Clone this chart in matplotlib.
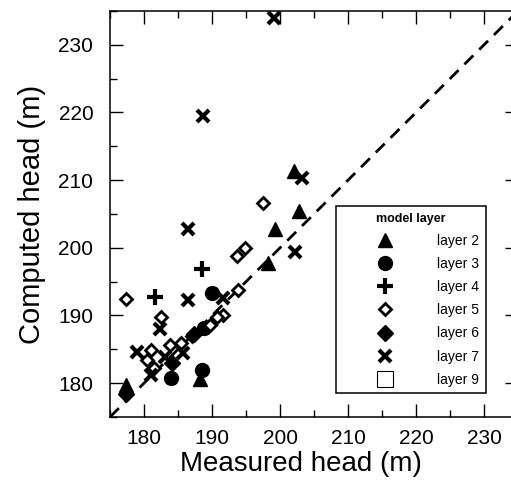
import matplotlib
matplotlib.use("Agg")
import matplotlib.pyplot as plt
from matplotlib.lines import Line2D
from matplotlib.ticker import MultipleLocator

plt.rcParams['font.family'] = ['Liberation Sans', 'DejaVu Sans']

# ---- data (measured head, computed head) per model layer ----
layer2_x = [202.0, 202.8, 199.3, 198.2, 177.4, 188.2]
layer2_y = [211.3, 205.4, 202.8, 197.7, 179.8, 180.6]

layer3_x = [190.0, 188.6, 183.9, 188.8]
layer3_y = [193.3, 182.0, 180.8, 188.2]

layer4_x = [181.6, 188.5]
layer4_y = [192.7, 196.9]

layer5_x = [177.3, 197.5, 193.7, 194.9, 182.5, 191.6, 193.8, 181.1, 180.4,
            181.4, 183.8, 185.5, 187.0, 189.7, 190.7]
layer5_y = [192.5, 206.6, 198.8, 200.0, 189.8, 190.1, 193.8, 184.9, 183.4,
            182.2, 185.6, 185.9, 186.9, 188.6, 189.8]

layer6_x = [177.3, 184.1, 187.3]
layer6_y = [178.4, 183.0, 187.3]

layer7_x = [199.1, 188.7, 186.5, 203.2, 202.2, 186.5, 191.6, 182.4, 178.9,
            181.1, 183.1, 185.8]
layer7_y = [233.9, 219.5, 202.8, 210.3, 199.4, 192.3, 192.6, 188.0, 184.6,
            181.2, 183.9, 184.4]

axis_min, axis_max = 175, 235
tick_values = [180, 190, 200, 210, 220, 230]

fig = plt.figure(figsize=(5.11, 4.92), dpi=100)
ax = fig.add_axes([110 / 511, 75 / 492, 408 / 511, 406 / 492])

ax.plot([axis_min, axis_max], [axis_min, axis_max], color='black', lw=2,
        dashes=(4.5, 3), zorder=1)

ax.plot(layer2_x, layer2_y, ls='none', marker='^', ms=10, color='black', zorder=3)
ax.plot(layer3_x, layer3_y, ls='none', marker='o', ms=10, color='black', zorder=3)
ax.plot(layer4_x, layer4_y, ls='none', marker='+', ms=11, mew=3, color='black', zorder=3)
ax.plot(layer5_x, layer5_y, ls='none', marker='D', ms=6, mfc='white', mec='black',
        mew=2, zorder=3)
ax.plot(layer6_x, layer6_y, ls='none', marker='D', ms=8, color='black', zorder=3)
ax.plot(layer7_x, layer7_y, ls='none', marker='x', ms=9, mew=3, color='black', zorder=3)

ax.set_xlim(axis_min, axis_max)
ax.set_ylim(axis_min, axis_max)
ax.set_xticks(tick_values)
ax.set_yticks(tick_values)
ax.xaxis.set_minor_locator(MultipleLocator(5))
ax.yaxis.set_minor_locator(MultipleLocator(5))
ax.tick_params(which='both', direction='in', top=True, right=True, width=1,
               labelsize=15)
ax.tick_params(axis='x', which='both', pad=9)
ax.tick_params(axis='y', which='both', pad=12)
ax.tick_params(which='major', length=9.5)
ax.tick_params(which='minor', length=5)
for s in ax.spines.values():
    s.set_linewidth(1.1)

ax.set_xlabel('Measured head (m)', fontsize=20)
ax.xaxis.set_label_coords((301 - 110) / 408, (417 - 451) / 406)
ax.set_ylabel('Computed head (m)', fontsize=21, labelpad=9)

handles = [
    Line2D([], [], ls='none', marker='^', ms=10, color='black'),
    Line2D([], [], ls='none', marker='o', ms=10, color='black'),
    Line2D([], [], ls='none', marker='+', ms=11, mew=3, color='black'),
    Line2D([], [], ls='none', marker='D', ms=6, mfc='white', mec='black', mew=2),
    Line2D([], [], ls='none', marker='D', ms=8, color='black'),
    Line2D([], [], ls='none', marker='x', ms=9, mew=3, color='black'),
    Line2D([], [], ls='none', marker='s', ms=11, mfc='white', mec='black', mew=0.8),
]
labels = ['layer 2', 'layer 3', 'layer 4', 'layer 5', 'layer 6', 'layer 7', 'layer 9']
leg = ax.legend(handles, labels, loc='lower left',
                bbox_to_anchor=((336 - 110) / 408, (417 - 393) / 406),
                borderaxespad=0, fontsize=10, title='model layer',
                title_fontproperties={'weight': 'bold', 'size': 9},
                frameon=True, fancybox=False, edgecolor='black', framealpha=1,
                handlelength=6.1, handletextpad=0.75, labelspacing=0.66,
                borderpad=0.45)
leg.get_frame().set_linewidth(1.1)

fig.savefig('out.png', dpi=100)
